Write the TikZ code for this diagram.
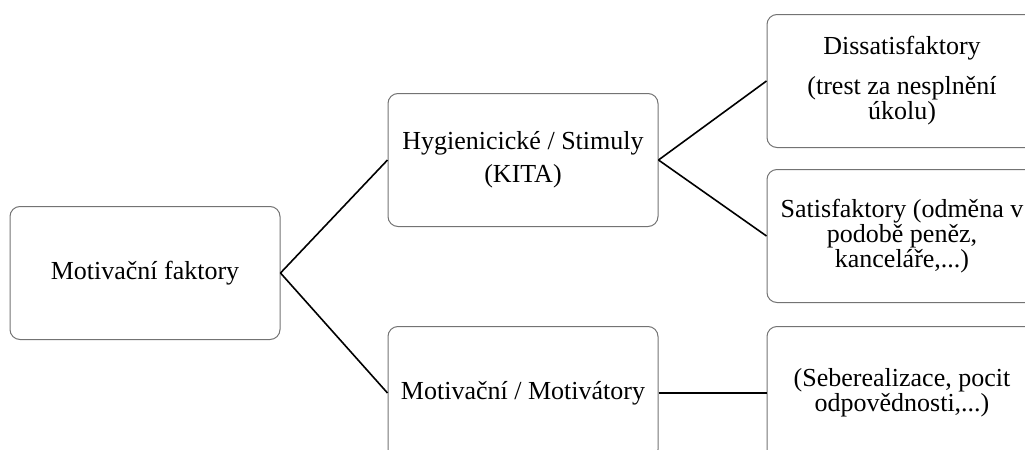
\documentclass[tikz,border=0pt]{standalone}
\usepackage{fontspec}
\setmainfont{Liberation Serif}
\begin{document}
\begin{tikzpicture}[x=0.5pt,y=-0.5pt,
	box/.style={draw=black!55,line width=0.5pt,rounded corners=5pt,minimum width=135pt,minimum height=66.5pt,align=center,inner sep=2pt,font=\fontsize{13}{12.5}\selectfont},
	link/.style={line width=0.8pt}]
	\useasboundingbox (0,0) rectangle (1025,450);
	\clip (0,0) rectangle (1025,450);
	% boxes
	\node [box] (faktory) at (145,273) {Motivační faktory};
	\node [box] (hygiena) at (523,160) {Hygienicické / Stimuly\\[4pt](KITA)};
	\node [box] (motivace) at (523,393) {Motivační / Motivátory};
	\node [box] (dissat) at (902,81) {Dissatisfaktory\\[7.5pt](trest za nesplnění\\úkolu)};
	\node [box] (sat) at (902,236) {Satisfaktory (odměna v\\podobě peněz,\\kanceláře,...)};
	\node [box] (seberealizace) at (902,393) {(Seberealizace, pocit\\odpovědnosti,...)};
	% lines
	\draw [link] (faktory.east) -- (hygiena.west);
	\draw [link] (faktory.east) -- (motivace.west);
	\draw [link] (hygiena.east) -- (dissat.west);
	\draw [link] (hygiena.east) -- (sat.west);
	\draw [link] (motivace.east) -- (seberealizace.west);
\end{tikzpicture}
\end{document}
